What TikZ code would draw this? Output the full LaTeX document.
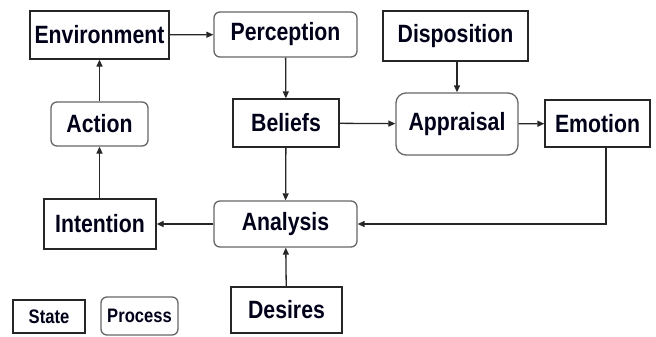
\documentclass[tikz,border=0pt]{standalone}
\usepackage{fontspec}
\newfontfamily\lblfont[FakeStretch=0.85]{Liberation Sans Bold}
\usetikzlibrary{arrows.meta}
\begin{document}
\begin{tikzpicture}[x=1bp,y=-1bp,
  box/.style={draw=black!85,line width=1.3bp,inner sep=0pt,
    font=\lblfont\fontsize{25bp}{30bp}\selectfont,text=black!90!blue},
  statebox/.style={box},
  procbox/.style={box,draw=black!60,rounded corners=6bp},
  smallfont/.style={font=\lblfont\fontsize{19.5bp}{23bp}\selectfont},
  arr/.style={line width=1.3bp,draw=black!85,-{Triangle[length=7bp,width=6bp]}}]
\useasboundingbox (0,0) rectangle (656,336);
\node[statebox,minimum width=139bp,minimum height=48bp] (env) at (99.5,35) {Environment};
\node[procbox,minimum width=143bp,minimum height=45bp] (per) at (285.5,34.5) {Perception};
\node[procbox,minimum width=97bp,minimum height=44bp] (act) at (99.5,124) {Action};
\node[statebox,minimum width=106bp,minimum height=48bp] (bel) at (286,123) {Beliefs};
\node[statebox,minimum width=145bp,minimum height=50bp] (dis) at (455.5,36) {Disposition};
\node[procbox,minimum width=122bp,minimum height=62bp,rounded corners=10bp] (app) at (457,124) {Appraisal};
\node[statebox,minimum width=105bp,minimum height=47bp] (emo) at (597.5,123.5) {Emotion};
\node[statebox,minimum width=112bp,minimum height=50bp] (int) at (100,224) {Intention};
\node[procbox,minimum width=143bp,minimum height=46bp] (ana) at (285.5,224) {Analysis};
\node[statebox,minimum width=111bp,minimum height=46bp] (des) at (286.5,310) {Desires};
\node[statebox,smallfont,minimum width=72bp,minimum height=33bp] (st) at (49,316.5) {State};
\node[procbox,smallfont,minimum width=77bp,minimum height=38bp] (pr) at (139.5,316) {Process};
\coordinate (ec) at (606,224);
\draw[arr] (env) -- (per);
\draw[arr] (per) -- (bel);
\draw[arr] (bel) -- (app);
\draw[arr] (dis.south -| app.north) -- (app.north);
\draw[arr] (app) -- (emo);
\draw[arr] (bel) -- (ana);
\draw[arr] (emo.south -| ec) -- (ec) -- (ana.east);
\draw[arr] (ana) -- (int);
\draw[arr] (int.north -| act.south) -- (act.south);
\draw[arr] (act) -- (env);
\draw[arr] (des) -- (ana);
\end{tikzpicture}
\end{document}
